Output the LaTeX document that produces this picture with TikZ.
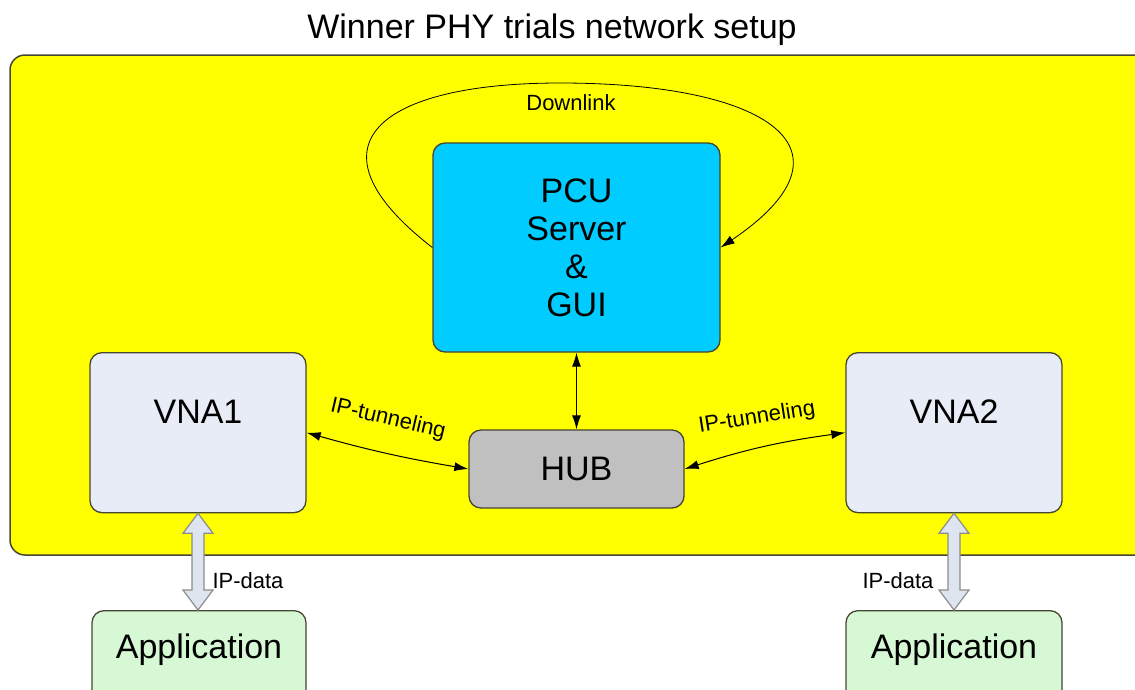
\documentclass[tikz,border=0pt]{standalone}
\usepackage{fontspec}
\setmainfont{Liberation Sans}
\usetikzlibrary{arrows.meta,calc}
\definecolor{bord}{RGB}{70,70,50}
\definecolor{ylw}{RGB}{255,255,0}
\definecolor{pcucol}{RGB}{0,204,255}
\definecolor{vnacol}{RGB}{232,236,246}
\definecolor{hubcol}{RGB}{192,192,192}
\definecolor{appcol}{RGB}{214,248,212}
\definecolor{fatfill}{RGB}{222,228,240}
\definecolor{fatline}{RGB}{140,140,140}
\tikzset{
  boxn/.style={draw=bord, line width=1.3pt, rounded corners=12pt, align=center, inner sep=0pt,
     font=\fontsize{34}{38}\selectfont},
  conn/.style={line width=1pt, {Latex[length=14pt,width=9pt]}-{Latex[length=14pt,width=9pt]}},
  lbl/.style={font=\fontsize{22}{24}\selectfont},
  fat/.style={draw=fatline, fill=fatfill, line width=1.2pt, line join=miter}
}
\newcommand{\fatarr}[2]{%
  \draw[fat] let \p1=(#1), \p2=(#2) in
    (\x1,\y1) -- (\x1+15pt,\y1-20pt) -- (\x1+6pt,\y1-20pt) -- (\x1+6pt,\y2+20pt)
    -- (\x1+15pt,\y2+20pt) -- (\x1,\y2) -- (\x1-15pt,\y2+20pt) -- (\x1-6pt,\y2+20pt)
    -- (\x1-6pt,\y1-20pt) -- (\x1-15pt,\y1-20pt) -- cycle;}
\begin{document}
\begin{tikzpicture}[x=1pt,y=-1pt]
\useasboundingbox (0,0) rectangle (1135,689);
\clip (0,0) rectangle (1135,689);
\node[font=\fontsize{34}{38}\selectfont] (title) at (552,30) {Winner PHY trials network setup};
\draw[bord, line width=1.5pt, fill=ylw, rounded corners=15pt] (10,55) rectangle (1160,555);
\node[boxn, fill=pcucol, minimum width=287pt, minimum height=209pt] (pcu) at (576.5,247.5)
  {PCU\\Server\\\&\\GUI};
\node[boxn, fill=vnacol, minimum width=216pt, minimum height=160pt, anchor=north] (vna1) at (198,352) {};
\node at ($(vna1.north)+(0,60)$) [font=\fontsize{34}{38}\selectfont] (vna1t) {VNA1};
\node[boxn, fill=vnacol, minimum width=216pt, minimum height=160pt, anchor=north] (vna2) at (954,352) {};
\node at ($(vna2.north)+(0,60)$) [font=\fontsize{34}{38}\selectfont] (vna2t) {VNA2};
\node[boxn, fill=hubcol, minimum width=215pt, minimum height=78pt] (hub) at (576.5,469) {HUB};
\node[boxn, fill=appcol, minimum width=214pt, minimum height=100pt, anchor=north] (app1) at (199,610) {};
\node at ($(app1.north)+(0,40)$) [font=\fontsize{34}{38}\selectfont] (app1t) {Application};
\node[boxn, fill=appcol, minimum width=216pt, minimum height=100pt, anchor=north] (app2) at (954,610) {};
\node at ($(app2.north)+(0,40)$) [font=\fontsize{34}{38}\selectfont] (app2t) {Application};
% connectors
\draw[conn] (pcu.south) -- (hub.north);
\draw[conn] (vna1.east) to[bend right=3] (hub.west);
\draw[conn] (hub.east) to[bend left=5] (vna2.east -| vna2.west);
\draw[line width=0.8pt, -{Latex[length=14pt,width=9pt]}] (pcu.west) .. controls (300,145) and (380,83) .. (560,83)
   .. controls (770,83) and (865,150) .. (pcu.east);
\node[lbl] (dl) at (571,103) {Downlink};
\node[lbl, rotate=-13] (ipt1) at (388,419) {IP-tunneling};
\node[lbl, rotate=9] (ipt2) at (757,418) {IP-tunneling};
\fatarr{vna1.south}{app1.north}
\fatarr{vna2.south}{app2.north}
\node[lbl] (ipd1) at (248,581) {IP-data};
\node[lbl] (ipd2) at (898,581) {IP-data};
\end{tikzpicture}
\end{document}
